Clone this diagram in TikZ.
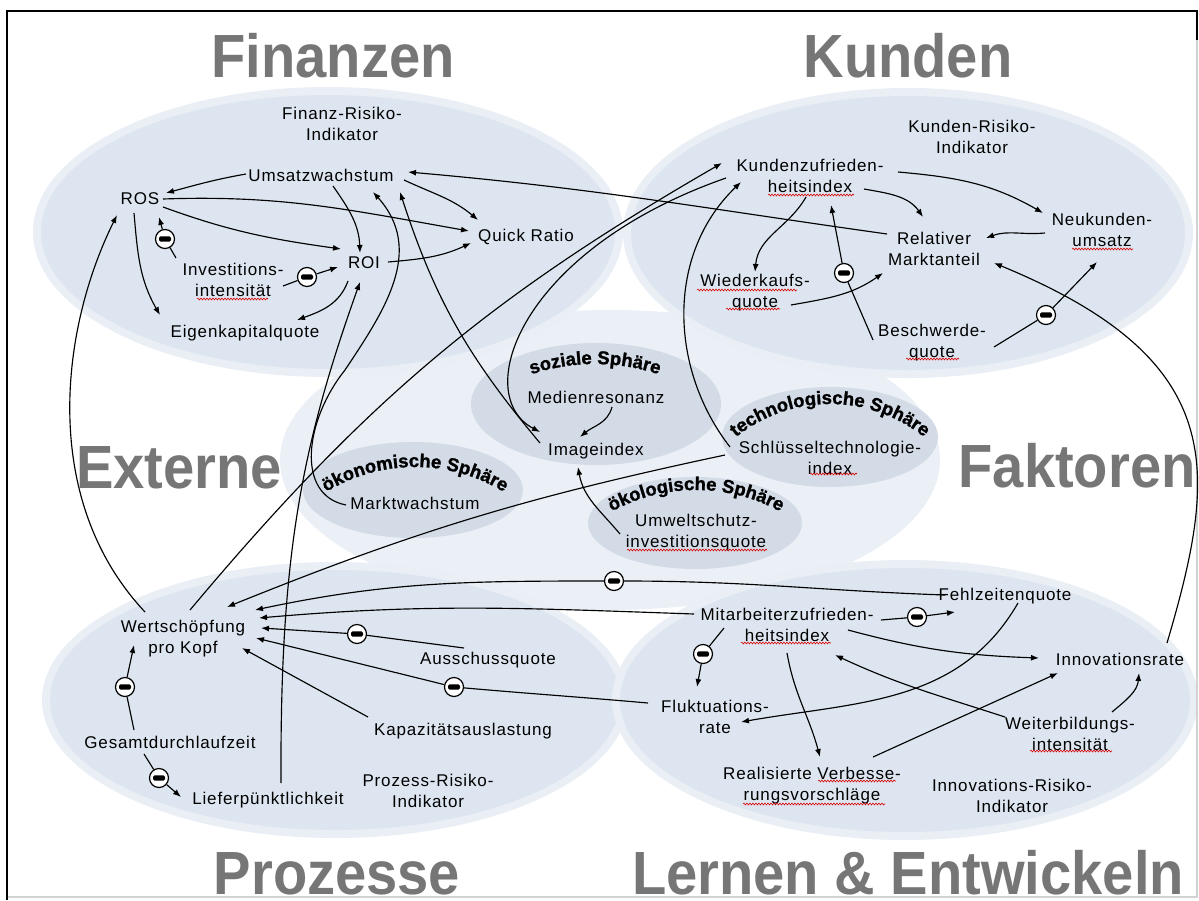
\documentclass[tikz,border=0pt]{standalone}
\usepackage{fontspec}
\setmainfont{Liberation Sans}
\usetikzlibrary{arrows.meta,decorations.text,decorations.pathmorphing}
\newfontfamily\labfam[LetterSpace=5]{Liberation Sans}
\newfontfamily\bigfam{Liberation Sans}
\newfontfamily\sphfam[BoldFeatures={FakeBold=1.3}]{Liberation Sans}
\newcommand\labfont{\labfam\fontsize{17}{21}\selectfont}
\newcommand\bigfont{\bigfam\bfseries\fontsize{61}{64}\selectfont}
\newcommand\sphfont{\sphfam\bfseries\fontsize{18.5}{19}\selectfont}
\newcommand\bigtxt[1]{\scalebox{0.92}[1]{#1}}
\definecolor{quad}{HTML}{DDE6F0}
\definecolor{quadsoft}{HTML}{E9EFF5}
\definecolor{sph}{HTML}{D3DBE6}
\definecolor{centr}{HTML}{EBF0F6}
\definecolor{titlegray}{HTML}{767676}
\tikzset{
  lab/.style={font=\labfont, align=center, inner sep=1pt, text=black},
  bigtitle/.style={font=\bigfont, text=titlegray, inner sep=0pt, anchor=base},
  cn/.style={line width=1.15pt, black},
  arr/.style={cn, -{Latex[length=8pt,width=6pt]}},
  minus/.style={circle, draw=black, fill=white, line width=1.2pt, minimum size=19pt, inner sep=0pt,
    path picture={\fill[black,rounded corners=1.4pt] ([shift={(-6pt,-2.6pt)}]path picture bounding box.center) rectangle ([shift={(6pt,2.6pt)}]path picture bounding box.center);}},
  spell/.style={red!85!black, line width=0.6pt, decorate, decoration={snake, segment length=3pt, amplitude=0.9pt}},
  sphtext/.style={decorate, decoration={text along path, text align=center, text={#1}}}
}
\begin{document}
\begin{tikzpicture}[x=1pt,y=1pt]
\useasboundingbox (0,0) rectangle (1199,-900);
\fill[white] (0,0) rectangle (1199,-900);
% background shapes
\fill[centr] (610,-460) ellipse[x radius=330, y radius=150];
\foreach \cx/\cy/\rx/\ry in {328/232/287/137, 908/233/277/137, 335/700/285/130, 905/700/285/132} {
  \fill[quadsoft] (\cx,-\cy) ellipse[x radius=\rx+8, y radius=\ry+8];
  \fill[quad] (\cx,-\cy) ellipse[x radius=\rx, y radius=\ry];
}
\fill[sph] (596,-404) ellipse[x radius=125, y radius=61];
\fill[sph] (413,-490) ellipse[x radius=110, y radius=48];
\fill[sph] (830,-437) ellipse[x radius=108, y radius=50];
\fill[sph] (695,-523) ellipse[x radius=107, y radius=46];
% frame
\draw[gray!35, line width=1.5pt] (1197,-40) -- (1197,-897) -- (7,-897);
\draw[black, line width=2pt] (7,-900) -- (7,-11) -- (1197,-11) -- (1197,-40);
% big titles
\node[bigtitle] (tfin) at (333,-77) {\bigtxt{Finanzen}};
\node[bigtitle] (tkun) at (908,-77) {\bigtxt{Kunden}};
\node[bigtitle] (text) at (179,-488) {\bigtxt{Externe}};
\node[bigtitle] (tfak) at (1077,-487) {\bigtxt{Faktoren}};
\node[bigtitle] (tpro) at (337,-894) {\bigtxt{Prozesse}};
\node[bigtitle] (tler) at (908,-894) {\bigtxt{Lernen \& Entwickeln}};
% sphere titles along arcs
\path[shift={(595,-564)}, sphtext={|\sphfont|soziale Sphäre}] (120:200) arc[start angle=120, end angle=60, radius=200];
\path[shift={(830,-554)}, sphtext={|\sphfont|technologische Sphäre}] (145:150) arc[start angle=145, end angle=35, radius=150];
\path[shift={(415,-637)}, sphtext={|\sphfont|ökonomische Sphäre}] (130:170) arc[start angle=130, end angle=50, radius=170];
\path[shift={(696,-665)}, sphtext={|\sphfont|ökologische Sphäre}] (130:175) arc[start angle=130, end angle=50, radius=175];
% labels
\node[lab] (fri) at (342,-124) {Finanz-Risiko-\\Indikator};
\node[lab] (umsatz) at (321,-175) {Umsatzwachstum};
\node[lab] (ros) at (140,-199) {ROS};
\node[lab] (qr) at (526,-237) {Quick Ratio};
\node[lab] (roi) at (364,-263) {ROI};
\node[lab] (inv) at (233,-280) {Investitions-\\intensität};
\node[lab] (ek) at (245,-333) {Eigenkapitalquote};
\node[lab] (kri) at (972,-137) {Kunden-Risiko-\\Indikator};
\node[lab] (kz) at (810,-176) {Kundenzufrieden-\\heitsindex};
\node[lab] (neu) at (1102,-230) {Neukunden-\\umsatz};
\node[lab] (rel) at (934,-249) {Relativer\\Marktanteil};
\node[lab] (wk) at (755,-293) {Wiederkaufs-\\quote};
\node[lab] (bes) at (932,-343) {Beschwerde-\\quote};
\node[lab] (med) at (596,-397) {Medienresonanz};
\node[lab] (img) at (596,-451) {Imageindex};
\node[lab] (markt) at (415,-503) {Marktwachstum};
\node[lab] (sti) at (830,-458) {Schlüsseltechnologie-\\index};
\node[lab] (uwi) at (696,-533) {Umweltschutz-\\investitionsquote};
\node[lab] (ws) at (183,-639) {Wertschöpfung\\pro Kopf};
\node[lab] (gdl) at (170,-742) {Gesamtdurchlaufzeit};
\node[lab] (lp) at (268,-800) {Lieferpünktlichkeit};
\node[lab] (aus) at (488,-660) {Ausschussquote};
\node[lab] (kap) at (463,-731) {Kapazitätsauslastung};
\node[lab] (pri) at (428,-791) {Prozess-Risiko-\\Indikator};
\node[lab] (fz) at (1005,-596) {Fehlzeitenquote};
\node[lab] (maz) at (787,-625) {Mitarbeiterzufrieden-\\heitsindex};
\node[lab] (inr) at (1120,-659) {Innovationsrate};
\node[lab] (flu) at (715,-717) {Fluktuations-\\rate};
\node[lab] (wb) at (1070,-734) {Weiterbildungs-\\intensität};
\node[lab] (rv) at (812,-786) {Realisierte Verbesse-\\rungsvorschläge};
\node[lab] (iri) at (1012,-796) {Innovations-Risiko-\\Indikator};
% spell-check waves
\draw[spell] (197,-299) -- (268,-299);
\draw[spell] (768,-195) -- (854,-195);
\draw[spell] (1072,-249) -- (1133,-249);
\draw[spell] (697,-290) -- (797,-290);
\draw[spell] (726,-309) -- (780,-309);
\draw[spell] (906,-359) -- (959,-359);
\draw[spell] (810,-474) -- (857,-474);
\draw[spell] (627,-550) -- (767,-550);
\draw[spell] (741,-643) -- (831,-643);
\draw[spell] (1030,-751) -- (1112,-751);
\draw[spell] (818,-781) -- (896,-781);
\draw[spell] (743,-804) -- (885,-804);
% minus markers
\node[minus] (m1) at (165,-239) {};
\node[minus] (m2) at (307,-277) {};
\node[minus] (m3) at (844,-273) {};
\node[minus] (m4) at (1046,-315) {};
\node[minus] (m5) at (614,-581) {};
\node[minus] (m6) at (357,-634) {};
\node[minus] (m7) at (454,-687) {};
\node[minus] (m8) at (125,-687) {};
\node[minus] (m9) at (159,-778) {};
\node[minus] (m10) at (917,-617) {};
\node[minus] (m11) at (703,-654) {};
% Finanzen
\draw[arr] ([shift={(-75,1)}]umsatz.center) to[out=190,in=15] ([shift={(26,6)}]ros.center);
\draw[arr] ([shift={(23,0)}]ros.center) to[out=2,in=170] ([shift={(-57,6)}]qr.center);
\draw[arr] ([shift={(23,-8)}]ros.center) to[out=-20,in=172] ([shift={(-23,14)}]roi.center);
\draw[arr] ([shift={(-6,-14)}]ros.center) to[out=-85,in=120] ([shift={(-85,18)}]ek.center);
\draw[cn] ([shift={(-57,22)}]inv.center) -- (m1);
\draw[arr] (m1) -- ([shift={(19,-18)}]ros.center);
\draw[cn] ([shift={(50,-6)}]inv.center) -- (m2);
\draw[arr] (m2) -- ([shift={(-26,-4)}]roi.center);
\draw[arr] ([shift={(-16,-18)}]roi.center) to[out=-110,in=20] ([shift={(52,13)}]ek.center);
\draw[arr] ([shift={(24,1)}]roi.center) to[out=5,in=205] ([shift={(-55,-6)}]qr.center);
\draw[arr] ([shift={(12,-11)}]umsatz.center) to[out=-55,in=92] ([shift={(-4,10)}]roi.center);
\draw[arr] ([shift={(83,-5)}]umsatz.center) to[out=-25,in=140] ([shift={(-48,17)}]qr.center);
\draw[arr] ([shift={(-47,15)}]rel.center) to[out=172,in=-5] ([shift={(87,3)}]umsatz.center);
% Kunden
\draw[arr] ([shift={(88,4)}]kz.center) to[out=-5,in=150] ([shift={(-59,17)}]neu.center);
\draw[arr] ([shift={(54,-13)}]kz.center) to[out=-10,in=125] ([shift={(-11,32)}]rel.center);
\draw[arr] ([shift={(-4,-21)}]kz.center) to[out=-120,in=85] ([shift={(0,21)}]wk.center);
\draw[arr] ([shift={(36,-12)}]wk.center) to[out=10,in=215] ([shift={(-51,-24)}]rel.center);
\draw[cn] ([shift={(-59,3)}]bes.center) -- (m3);
\draw[arr] (m3) -- ([shift={(21,-29)}]kz.center);
\draw[arr] ([shift={(-57,-3)}]neu.center) to[out=185,in=20] ([shift={(52,11)}]rel.center);
\draw[cn] ([shift={(62,-4)}]bes.center) -- (m4);
\draw[arr] (m4) -- ([shift={(-5,-32)}]neu.center);
\draw[arr] ([shift={(47,16)}]inr.center) .. controls (1218,-470) and (1230,-360) .. ([shift={(60,-14)}]rel.center);
% centre
\draw[arr] ([shift={(16,-10)}]med.center) to[out=-105,in=40] ([shift={(-16,14)}]img.center);
\draw[arr] ([shift={(-76,-1)}]uwi.center) to[out=130,in=-80] ([shift={(-18,-16)}]img.center);
\draw[arr] ([shift={(-56,8)}]img.center) to[out=130,in=-72] ([shift={(79,-17)}]umsatz.center);
\draw[arr] ([shift={(-84,-2)}]kz.center) .. controls (520,-250) and (470,-395) .. ([shift={(-56,19)}]img.center);
\draw[arr] ([shift={(7,29)}]ws.center) to[out=50,in=210] ([shift={(-88,13)}]kz.center);
\draw[arr] ([shift={(13,17)}]lp.center) .. controls (280,-560) and (300,-450) .. ([shift={(-4,-19)}]roi.center);
\draw[arr] ([shift={(-69,-2)}]markt.center) .. controls (295,-495) and (305,-420) .. (345,-370) .. controls (385,-310) and (425,-250) .. ([shift={(52,-17)}]umsatz.center);
\draw[arr] ([shift={(-100,11)}]sti.center) .. controls (670,-370) and (665,-255) .. ([shift={(-69,-6)}]kz.center);
\draw[arr] ([shift={(-105,3)}]sti.center) to[out=192,in=22] ([shift={(44,32)}]ws.center);
\draw[arr] ([shift={(-38,27)}]ws.center) .. controls (40,-500) and (60,-330) .. ([shift={(-23,-16)}]ros.center);
% Prozesse
\draw[cn] ([shift={(-60,1)}]fz.center) to[out=178,in=0] (m5);
\draw[arr] (m5) to[out=180,in=12] ([shift={(72,29)}]ws.center);
\draw[arr] ([shift={(-93,11)}]maz.center) to[out=178,in=5] ([shift={(76,21)}]ws.center);
\draw[cn] ([shift={(-24,12)}]aus.center) -- (m6);
\draw[arr] (m6) -- ([shift={(78,11)}]ws.center);
\draw[cn] ([shift={(-67,14)}]flu.center) to[out=175,in=-5] (m7);
\draw[arr] (m7) -- ([shift={(73,1)}]ws.center);
\draw[arr] ([shift={(-95,14)}]kap.center) -- ([shift={(59,-9)}]ws.center);
\draw[cn] ([shift={(-36,12)}]gdl.center) -- (m8);
\draw[arr] (m8) -- ([shift={(-49,-6)}]ws.center);
\draw[cn] ([shift={(-26,-12)}]gdl.center) -- (m9);
\draw[arr] (m9) -- ([shift={(-87,3)}]lp.center);
% Lernen
\draw[cn] ([shift={(94,5)}]maz.center) -- (m10);
\draw[arr] (m10) -- ([shift={(-50,-16)}]fz.center);
\draw[cn] ([shift={(-63,-3)}]maz.center) -- (m11);
\draw[arr] (m11) -- ([shift={(-18,30)}]flu.center);
\draw[arr] ([shift={(61,-5)}]maz.center) to[out=-15,in=178] ([shift={(-81,1)}]inr.center);
\draw[arr] ([shift={(0,-28)}]maz.center) to[out=-80,in=105] ([shift={(8,29)}]rv.center);
\draw[arr] ([shift={(13,-7)}]fz.center) to[out=-120,in=10] ([shift={(26,-5)}]flu.center);
\draw[arr] ([shift={(61,29)}]rv.center) -- ([shift={(-62,-14)}]inr.center);
\draw[arr] ([shift={(-65,17)}]wb.center) to[out=162,in=-25] ([shift={(48,-30)}]maz.center);
\draw[arr] ([shift={(42,22)}]wb.center) to[out=40,in=-95] ([shift={(19,-14)}]inr.center);
\end{tikzpicture}
\end{document}
